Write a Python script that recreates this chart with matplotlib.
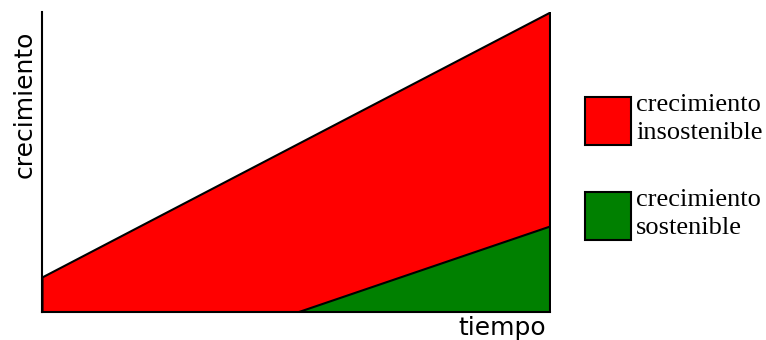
import matplotlib
matplotlib.use("Agg")
import matplotlib.pyplot as plt
from matplotlib.patches import Rectangle

# growth curves (time 0..1)
x_red = [0.0, 1.0]
y_red = [0.117, 1.0]
x_green = [0.502, 1.0]
y_green = [0.0, 0.287]

labels = ["crecimiento\ninsostenible", "crecimiento\nsostenible"]
colors = ["#ff0000", "#008000"]

fig = plt.figure(figsize=(7.66, 3.40), dpi=100)
ax = fig.add_axes([42 / 766, 28 / 340, 508 / 766, 300 / 340])

ax.fill_between(x_red, y_red, 0, facecolor=colors[0], edgecolor="black", linewidth=1.5)
ax.fill_between(x_green, y_green, 0, facecolor=colors[1], edgecolor="black", linewidth=1.5)
ax.plot([1.0, 1.0], [0, y_red[1]], color="black", linewidth=1.5)

ax.set_xlim(0, 1.0)
ax.set_ylim(0, 1.0)
ax.set_xticks([])
ax.set_yticks([])
ax.spines["top"].set_visible(False)
ax.spines["right"].set_visible(False)
ax.spines["left"].set_linewidth(1.5)
ax.spines["bottom"].set_linewidth(1.5)
ax.patch.set_alpha(0)

fig.text(25 / 766, 1 - 104 / 340, "crecimiento", rotation=90, ha="center", va="center",
         fontsize=18, family="DejaVu Sans")
fig.text(546 / 766, 1 - 328 / 340, "tiempo", ha="right", va="center",
         fontsize=18, family="DejaVu Sans")

# legend drawn by hand
box_tops = [97, 192]
for top, lab, col in zip(box_tops, labels, colors):
    fig.patches.append(Rectangle((585 / 766, 1 - (top + 48) / 340), 46 / 766, 48 / 340,
                                 transform=fig.transFigure, facecolor=col,
                                 edgecolor="black", linewidth=1.5))
    fig.text(636 / 766, 1 - (top + 22) / 340, lab, ha="left", va="center",
             fontsize=19, family="Liberation Serif", linespacing=1.32)

fig.savefig("out.png", dpi=100)
